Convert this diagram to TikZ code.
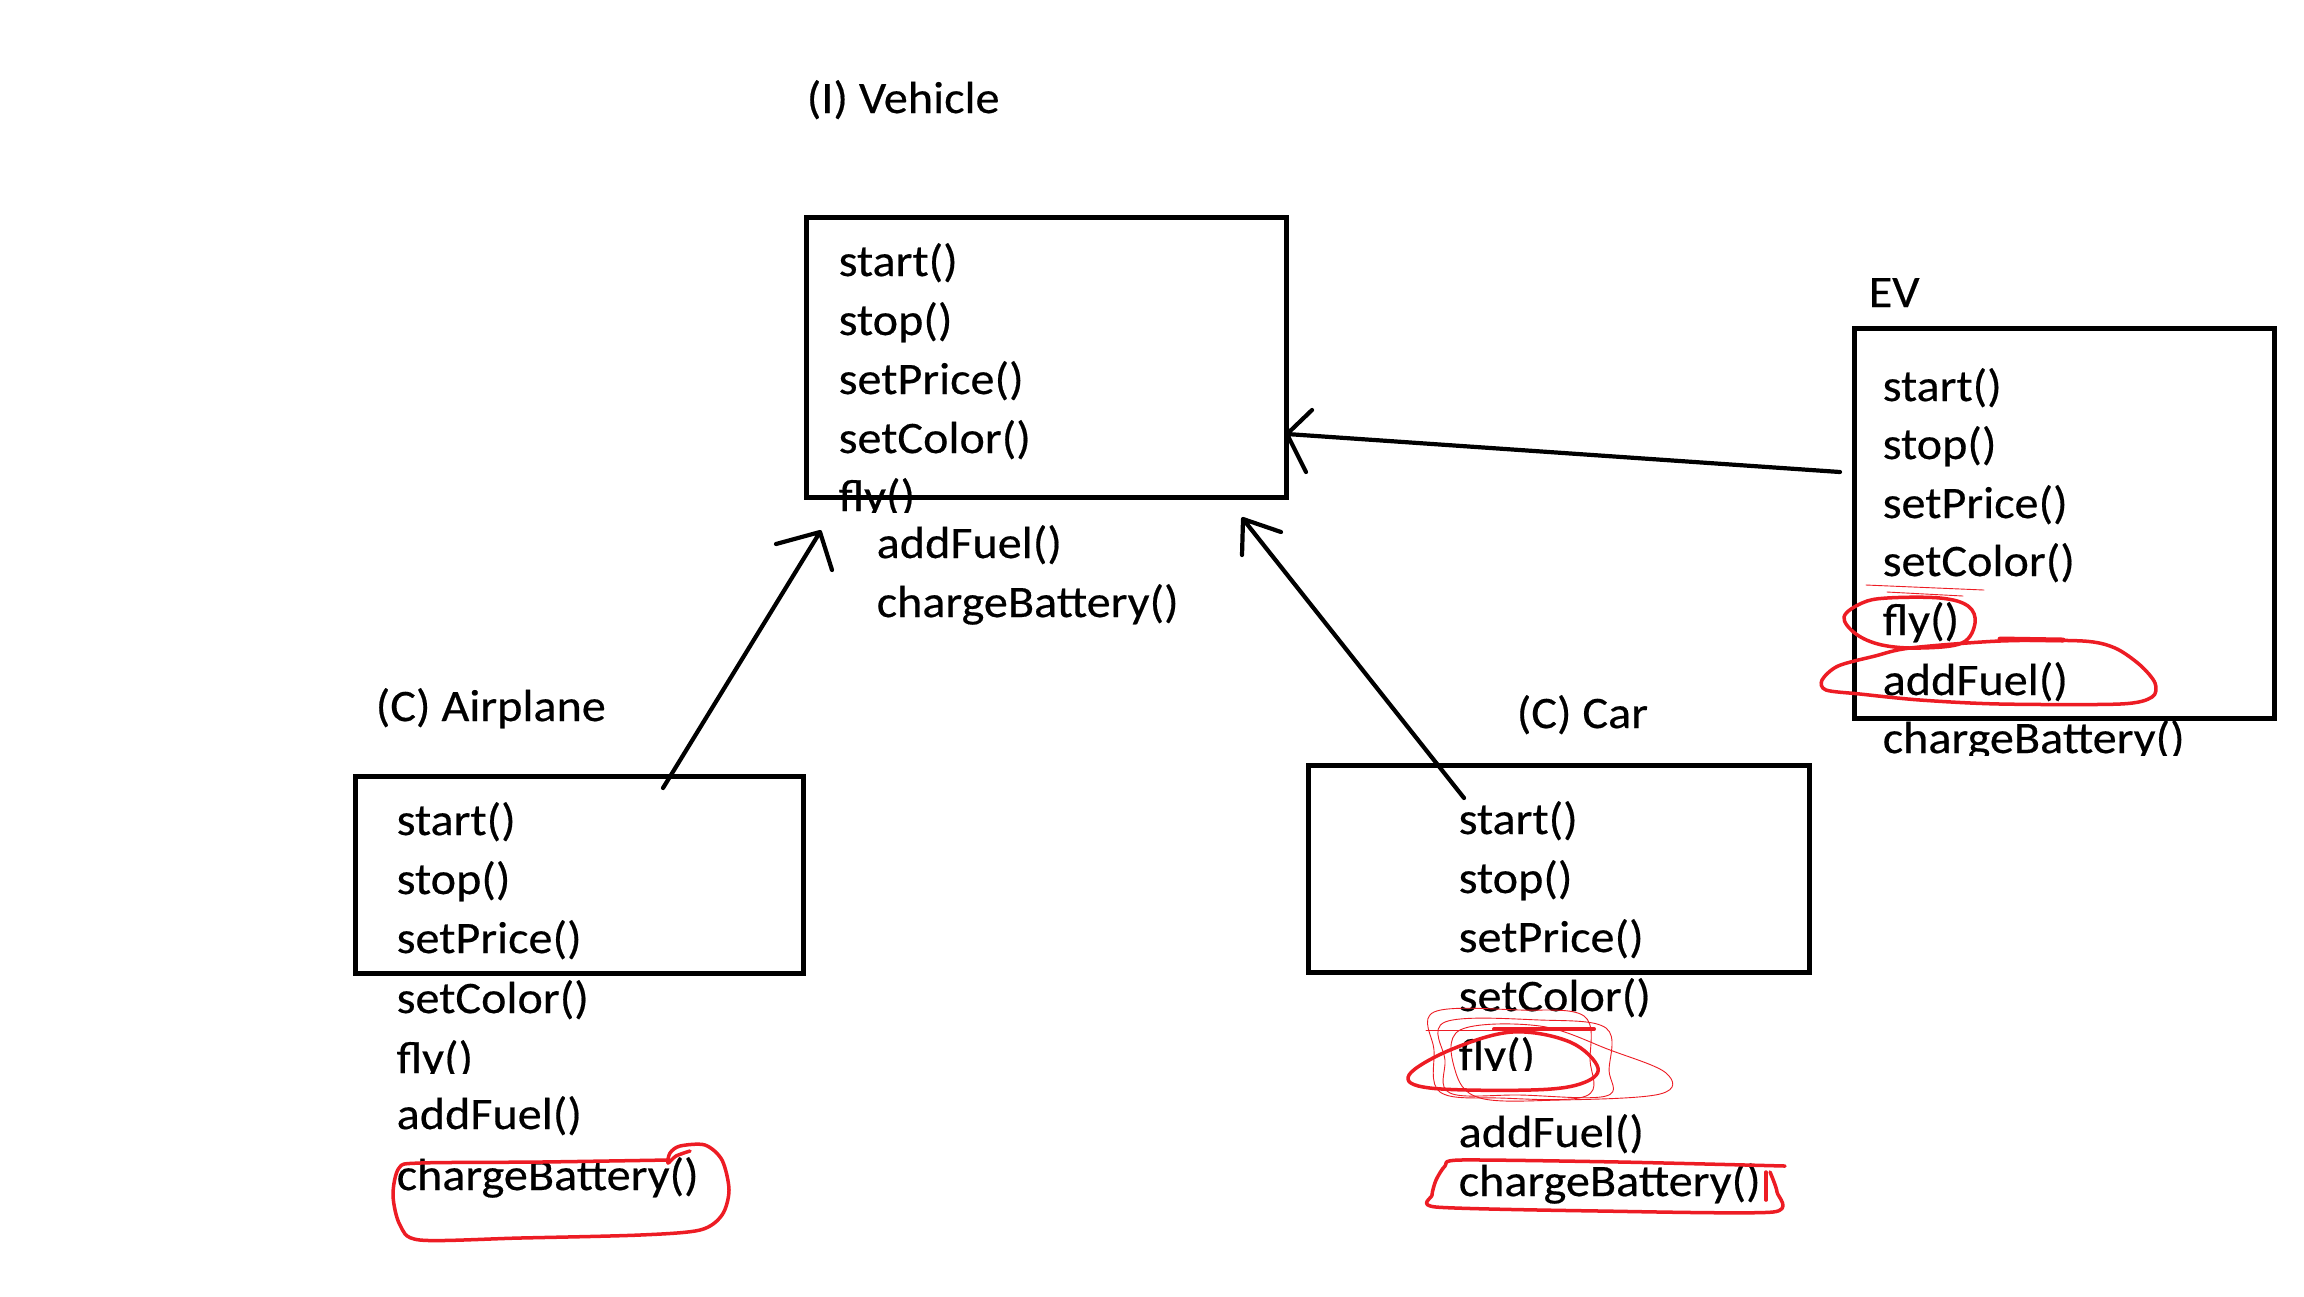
\documentclass[tikz,border=0pt]{standalone}
\usepackage{fontspec}
\setmainfont{Carlito}[FakeStretch=1.07,FakeBold=0.4]
\newcommand\paintfont{\fontsize{12.8pt}{15pt}\selectfont}
\definecolor{paintred}{HTML}{ED1C24}
\begin{document}
\begin{tikzpicture}[x=0.01cm,y=-0.01cm,
  classbox/.style={draw=black, line width=0.05cm, inner sep=0pt, anchor=north west},
  member/.style={anchor=base west, inner sep=0pt, font=\paintfont},
  conn/.style={line width=0.042cm, line cap=round, line join=round},
  redmark/.style={draw=paintred, line width=0.035cm, line cap=round, line join=round},
  redthin/.style={draw=paintred, line width=0.009cm, line cap=round, line join=round}]
\useasboundingbox[fill=white] (0,0) rectangle (2304,1296);

% ---------- Vehicle ----------
\node[member] (vehTitle) at (806,113) {(I) Vehicle};
\node[classbox, minimum width=4.80cm, minimum height=2.80cm] (vehBox) at (804,215) {};
\node[member] (vehStart) at (838,276) {start()};
\node[member] (vehStop) at (838,335) {stop()};
\node[member] (vehPrice) at (838,394) {setPrice()};
\node[member] (vehColor) at (838,453) {setColor()};
\begin{scope}
  \clip (830,470) rectangle (1000,512);
  \node[member] (vehFly) at (838,511) {fly()};
\end{scope}
\node[member] (vehFuel) at (876,558) {addFuel()};
\node[member] (vehCharge) at (876,617) {chargeBattery()};

% ---------- Airplane ----------
\node[member] (airTitle) at (375,721) {(C) Airplane};
\node[classbox, minimum width=4.48cm, minimum height=1.97cm] (airBox) at (353,774) {};
\node[member] (airStart) at (396,835) {start()};
\node[member] (airStop) at (396,894) {stop()};
\node[member] (airPrice) at (396,953) {setPrice()};
\node[member] (airColor) at (396,1013) {setColor()};
\begin{scope}
  \clip (390,1030) rectangle (560,1073);
  \node[member] (airFly) at (396,1073) {fly()};
\end{scope}
\node[member] (airFuel) at (396,1129) {addFuel()};
\node[member] (airCharge) at (396,1190) {chargeBattery()};

% ---------- Car ----------
\node[member] (carTitle) at (1516,728) {(C) Car};
\node[classbox, minimum width=5.01cm, minimum height=2.07cm] (carBox) at (1306,763) {};
\node[member] (carStart) at (1458,834) {start()};
\node[member] (carStop) at (1458,893) {stop()};
\node[member] (carPrice) at (1458,952) {setPrice()};
\node[member] (carColor) at (1458,1011) {setColor()};
\begin{scope}
  \clip (1450,1030) rectangle (1620,1070);
  \node[member] (carFly) at (1458,1070) {fly()};
\end{scope}
\node[member] (carFuel) at (1458,1147) {addFuel()};
\node[member] (carCharge) at (1458,1196) {chargeBattery()};

% ---------- EV ----------
\node[member] (evTitle) at (1868,307) {EV};
\node[classbox, minimum width=4.20cm, minimum height=3.90cm] (evBox) at (1852,326) {};
\node[member] (evStart) at (1882,401) {start()};
\node[member] (evStop) at (1882,459) {stop()};
\node[member] (evPrice) at (1882,518) {setPrice()};
\node[member] (evColor) at (1882,576) {setColor()};
\node[member] (evFly) at (1882,635) {fly()};
\node[member] (evFuel) at (1882,695) {addFuel()};
\begin{scope}
  \clip (1875,710) rectangle (2250,755);
  \node[member] (evCharge) at (1882,753) {chargeBattery()};
\end{scope}

% ---------- connectors ----------
\coordinate (airTail) at (663,788);
\coordinate (airTip) at (820,532);
\draw[conn] (airTail) -- (airTip) -- ++(-44,12) (airTip) -- ++(12,38);

\coordinate (carTail) at (1464,798);
\coordinate (carTip) at (1243,519);
\draw[conn] (carTail) -- (carTip) -- ++(38,13) (carTip) -- ++(-1,36);

\coordinate (evTail) at (1840,472);
\coordinate (evTip) at (1287,434);
\draw[conn] (evTail) -- (evTip) -- ++(25,-24) (evTip) -- ++(19,38);

% ---------- red marks ----------
% Airplane chargeBattery
\draw[redmark] plot[smooth, tension=0.5] coordinates {(668,1160) (540,1162) (420,1163) (399,1168) (393,1195) (400,1225) (420,1240) (520,1238) (640,1235) (700,1230) (722,1215) (729,1190) (722,1160) (705,1145) (680,1146) (670,1153) (668,1163) (676,1156) (690,1151)};

% Car fly scribbles
\draw[redthin] plot[smooth cycle, tension=0.6] coordinates {(1434,1012) (1520,1010) (1584,1016) (1590,1060) (1586,1096) (1500,1098) (1440,1092) (1434,1050)};
\draw[redthin] plot[smooth cycle, tension=0.6] coordinates {(1445,1022) (1540,1020) (1606,1028) (1609,1070) (1606,1096) (1520,1095) (1450,1093) (1445,1060)};
\draw[redthin] plot[smooth cycle, tension=0.6] coordinates {(1460,1030) (1540,1026) (1610,1050) (1666,1073) (1660,1094) (1560,1100) (1480,1098) (1455,1070)};
\draw[redthin] (1426,1030) -- (1594,1030);
\draw[redmark] plot[smooth cycle, tension=0.6] coordinates {(1409,1075) (1450,1050) (1512,1032) (1570,1042) (1598,1068) (1580,1084) (1530,1090) (1430,1088)};
\draw[redmark, line width=0.04cm] (1494,1029) -- (1594,1029);

% Car chargeBattery
\draw[redmark] plot[smooth, tension=0.4] coordinates {(1785,1166) (1620,1162) (1460,1160) (1445,1166) (1436,1180) (1432,1195) (1436,1207) (1600,1211) (1773,1212) (1777,1192) (1770,1172)};
\draw[redmark] (1766,1172) -- (1766,1200);

% EV fly
\draw[redmark] plot[smooth cycle, tension=0.6] coordinates {(1844,617) (1862,603) (1887,598) (1940,598) (1968,606) (1975,623) (1962,643) (1920,648) (1882,645) (1856,634)};
\draw[redthin] (1866,585) -- (1984,590);
\draw[redthin] (1887,592) -- (1963,596);

% EV addFuel
\draw[redmark] plot[smooth cycle, tension=0.5] coordinates {(1822,680) (1838,666) (1875,656) (1910,648) (2000,641) (2083,641) (2115,648) (2140,665) (2155,683) (2152,697) (2120,704) (2000,704) (1920,700) (1860,694) (1826,690)};
\draw[redmark, line width=0.05cm] (2000,639) -- (2063,640);
\end{tikzpicture}
\end{document}
